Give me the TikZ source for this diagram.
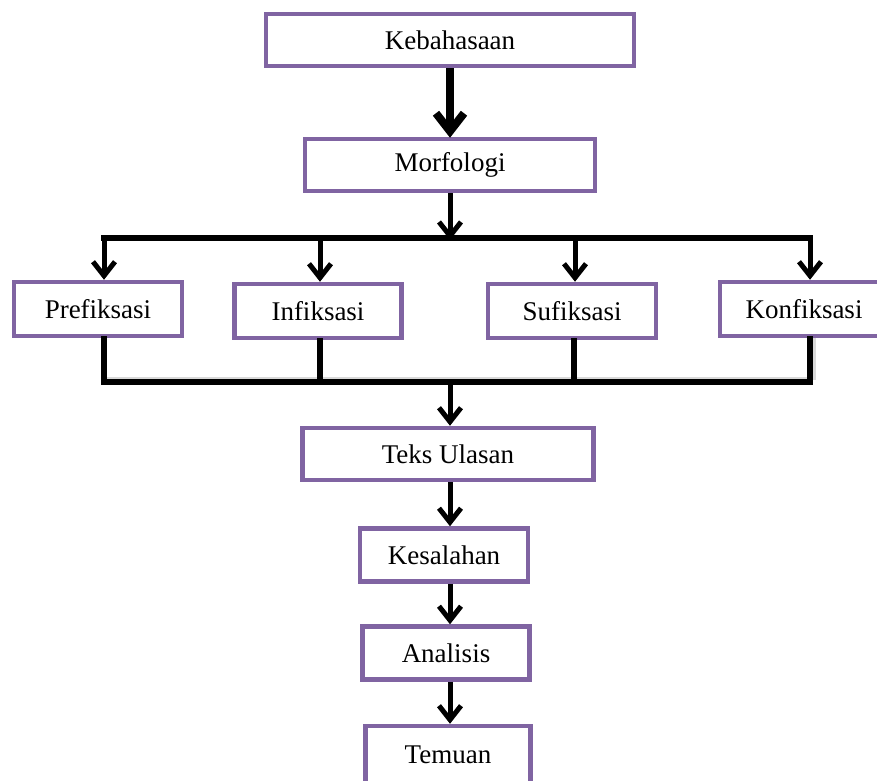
\documentclass[tikz,border=0pt]{standalone}
\usepackage{fontspec}
\setmainfont{Liberation Serif}
\usetikzlibrary{arrows.meta}
\definecolor{boxpurple}{HTML}{8064A2}
\tikzset{
  box/.style={draw=boxpurple, line width=4.5pt, fill=white, inner sep=0pt,
    minimum height=52pt, font=\fontsize{27}{31}\selectfont},
  arr/.style={line width=5pt, -{Straight Barb[length=14pt,width=22pt]}},
  bigarr/.style={line width=8pt, -{Straight Barb[length=18pt,width=28pt]}},
  busline/.style={line width=5.5pt, line cap=rect},
  shadowline/.style={line width=3pt, gray!30}
}
\begin{document}
\begin{tikzpicture}[x=1pt,y=-1pt]
\useasboundingbox (0,0) rectangle (877,780);
% boxes
\node[box, minimum width=368pt] (keb) at (450,40) {Kebahasaan};
\node[box, minimum width=290pt] (mor) at (450,165) {Morfologi};
\node[box, minimum width=168pt, minimum height=54pt] (pre) at (98,309) {Prefiksasi};
\node[box, minimum width=167pt, minimum height=54pt] (inf) at (318,311) {Infiksasi};
\node[box, minimum width=168pt, minimum height=54pt] (suf) at (572,311) {Sufiksasi};
\node[box, minimum width=168pt, minimum height=54pt] (kon) at (804,309) {Konfiksasi};
\node[box, minimum width=291pt] (tek) at (448,454) {Teks Ulasan};
\node[box, minimum width=168pt, minimum height=53pt] (kes) at (444,555) {Kesalahan};
\node[box, minimum width=167pt, minimum height=53pt] (ana) at (446,653) {Analisis};
\node[box, minimum width=165pt, minimum height=64pt] (tem) at (448,758) {\raisebox{6pt}{Temuan}};
% bus coordinates
\coordinate (tc) at (450,238);
\coordinate (t1) at (104,238);
\coordinate (t2) at (320,238);
\coordinate (t3) at (575,238);
\coordinate (t4) at (810,238);
\coordinate (bc) at (450,382);
\coordinate (b1) at (104,382);
\coordinate (b2) at (320,382);
\coordinate (b3) at (574,382);
\coordinate (b4) at (810,382);
% connectors
\draw[bigarr] (keb.south) -- ([yshift=-1pt]mor.north);
\draw[arr] (mor.south) -- ([yshift=-2pt]tc);
\draw[busline] (t1) -- (t4);
\draw[arr] (t1) -- (t1 |- pre.north);
\draw[arr] (t2) -- (t2 |- inf.north);
\draw[arr] (t3) -- (t3 |- suf.north);
\draw[arr] (t4) -- (t4 |- kon.north);
% bottom bus with faint shadow
\draw[shadowline] ([yshift=4pt]b1) -- ([xshift=4pt,yshift=4pt]b4) -- ([xshift=4pt]b4 |- kon.south);
\draw[busline] (b1 |- pre.south) -- (b1);
\draw[busline] (b2 |- inf.south) -- (b2);
\draw[busline] (b3 |- suf.south) -- (b3);
\draw[busline] (b4 |- kon.south) -- (b4);
\draw[busline] (b1) -- (b4);
\draw[arr] (bc) -- (bc |- tek.north);
\draw[arr] (tek.south -| bc) -- (bc |- kes.north);
\draw[arr] (kes.south -| bc) -- (bc |- ana.north);
\draw[arr] (ana.south -| bc) -- (bc |- tem.north);
\end{tikzpicture}
\end{document}
